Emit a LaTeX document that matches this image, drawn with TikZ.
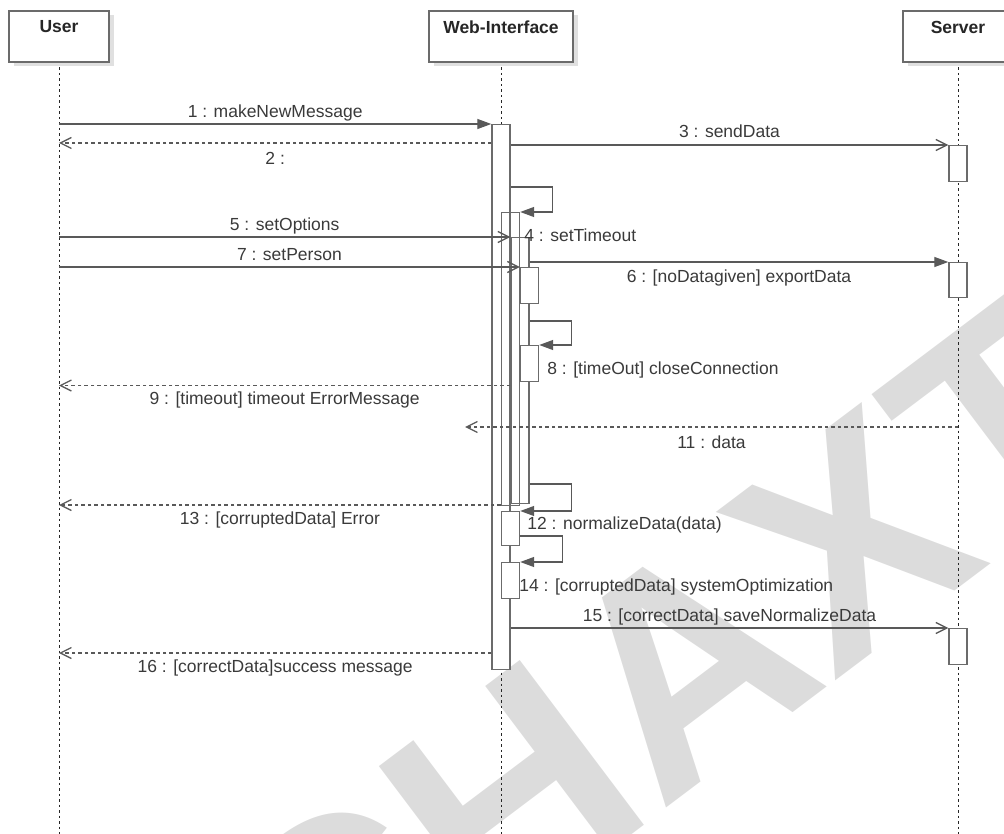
\documentclass[tikz,border=0pt]{standalone}
\usepackage{fontspec}
\setmainfont{Liberation Sans}
\usetikzlibrary{arrows.meta,shadows}
\definecolor{linegray}{HTML}{595959}
\definecolor{framegray}{HTML}{6B6B6B}
\definecolor{textgray}{HTML}{3A3A3A}
\definecolor{markgray}{HTML}{DCDCDC}
\tikzstyle{object}=[draw=framegray,line width=1.5pt,fill=white,minimum height=51pt,inner sep=0pt,drop shadow={shadow xshift=5pt,shadow yshift=-4pt,fill=black!12,opacity=1}]
\tikzstyle{headtext}=[anchor=north,yshift=-10.5pt,inner sep=0pt,text=black!85,font=\fontsize{17.5}{20}\selectfont\bfseries]
\tikzstyle{lifeline}=[draw=black!85,line width=0.9pt,dash pattern=on 2.5pt off 3pt]
\tikzstyle{bar}=[draw=framegray,line width=1.4pt,fill=white,minimum width=18pt,inner sep=0pt,anchor=north]
\tikzstyle{openbar}=[bar,fill=none]
\tikzstyle{call}=[draw=linegray,line width=1.3pt,-{Triangle[length=14pt,width=10pt]}]
\tikzstyle{async}=[draw=linegray,line width=1.3pt,-{Straight Barb[length=11pt,width=11pt]}]
\tikzstyle{reply}=[async,dash pattern=on 3.5pt off 3pt]
\tikzstyle{msg}=[text=textgray,inner sep=0pt,text height=13pt,text depth=0pt,font=\fontsize{17.5}{20}\selectfont]
\tikzstyle{watermark}=[text=markgray,inner sep=0pt,font=\fontsize{300}{300}\selectfont\bfseries,rotate=37]

\begin{document}
\begin{tikzpicture}[x=1pt,y=-1pt]
\useasboundingbox (0,0) rectangle (1004,834);
% watermark
  \node[watermark] (mark) at (665,680) {CHAXT};
% lifelines
  \coordinate (userend) at (59,834);
  \coordinate (webend) at (501,834);
  \coordinate (serverend) at (958,834);
  \draw[lifeline] (59,62) -- (userend);
  \draw[lifeline] (501,62) -- (webend);
  \draw[lifeline] (958,62) -- (serverend);
% objects
  \node[object,minimum width=100pt,label={[headtext]north:User}] (user) at (59,36.5) {};
  \node[object,minimum width=144pt,label={[headtext]north:Web-Interface}] (web) at (501,36.5) {};
  \node[object,minimum width=110pt,label={[headtext]north:Server}] (server) at (958,36.5) {};
% activations
  \node[bar,minimum height=545pt] (a1) at (501,124) {};
  \node[openbar,minimum height=293pt] (a2) at (510.5,212) {};
  \node[openbar,minimum height=266pt] (a3) at (520,237) {};
  \node[bar,minimum height=36pt] (a4) at (529.5,267) {};
  \node[bar,minimum height=36pt] (a5) at (529.5,345) {};
  \node[bar,minimum height=34pt] (a6) at (510.5,511) {};
  \node[bar,minimum height=36pt] (a7) at (510.5,562) {};
  \node[bar,minimum height=36pt] (s1) at (958,145) {};
  \node[bar,minimum height=35pt] (s2) at (958,262) {};
  \node[bar,minimum height=36pt] (s3) at (958,628) {};
% messages
  \draw[call] (user |- a1.north) -- node[msg,above=6pt] (l1) {1 : makeNewMessage} (a1.north west);
  \draw[reply] (a1.west |- 0,143) -- node[msg,below=8pt] (l2) {2 :} (user |- 0,143);
  \draw[async] (a1.east |- s1.north) -- node[msg,above=7pt] (l3) {3 : sendData} (s1.north west);
  \draw[call] (a1.east |- 0,187) -- ++(42,0) |- (a2.north east);
  \node[msg,anchor=west] (l4) at ([shift={(4pt,-23pt)}]a2.north east) {4 : setTimeout};
  \draw[async] (user |- a3.north) -- node[msg,above=6pt] (l5) {5 : setOptions} (a3.north west);
  \draw[call] (a3.east |- s2.north) -- node[msg,below=7pt] (l6) {6 : [noDatagiven] exportData} (s2.north west);
  \draw[async] (user |- a4.north) -- node[msg,above=6pt] (l7) {7 : setPerson} (a4.north west);
  \draw[call] (a3.east |- 0,321) -- ++(42,0) |- (a5.north east);
  \node[msg,anchor=west] (l8) at ([shift={(8pt,-23pt)}]a5.north east) {8 : [timeOut] closeConnection};
  \draw[reply] (a3.west |- 0,385.5) -- node[msg,below=5.5pt] (l9) {9 : [timeout] timeout ErrorMessage} (user |- 0,385.5);
  \coordinate (lost) at (465,427);
  \draw[reply] (server |- lost) -- node[msg,below=8pt] (l11) {11 : data} (lost);
  \draw[call] (a3.east |- 0,484) -- ++(42,0) |- (a6.north east);
  \node[msg,anchor=west] (l12) at ([shift={(7pt,-12pt)}]a6.north east) {12 : normalizeData(data)};
  \draw[reply] (a2.west |- 0,505) -- node[msg,below=6pt] (l13) {13 : [corruptedData] Error} (user |- 0,505);
  \draw[call] (a6.east |- 0,536) -- ++(42,0) |- (a7.north east);
  \node[msg,anchor=west] (l14) at ([shift={(-1pt,-23pt)}]a7.north east) {14 : [corruptedData] systemOptimization};
  \draw[async] (a1.east |- s3.north) -- node[msg,above=6pt] (l15) {15 : [correctData] saveNormalizeData} (s3.north west);
  \draw[reply] (a1.west |- 0,653) -- node[msg,below=6pt] (l16) {16 : [correctData]success message} (user |- 0,653);
\end{tikzpicture}
\end{document}
